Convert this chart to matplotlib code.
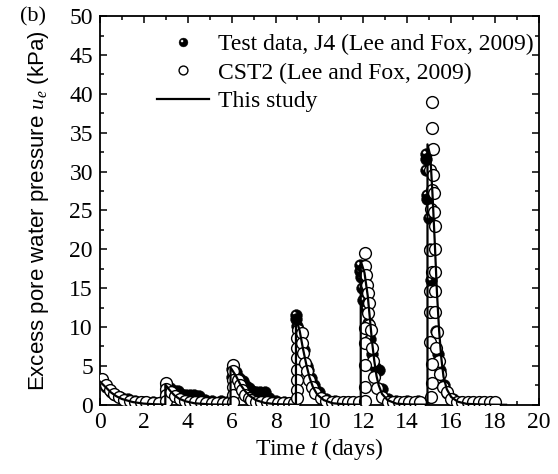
import matplotlib
matplotlib.use("Agg")
import matplotlib.pyplot as plt
from matplotlib.path import Path
from matplotlib.ticker import MultipleLocator
import numpy as np

# Measured excess pore water pressure, test J4 (Lee and Fox, 2009)
j4_t = [0.1, 0.3, 0.5, 0.7, 0.9, 1.1, 1.3, 1.6, 2.0, 2.4, 2.8,
        3.0, 3.0, 3.2, 3.4, 3.55, 3.7, 3.9, 4.1, 4.3, 4.5, 4.8, 5.1, 5.5, 5.8,
        6.0, 6.0, 6.2, 6.35, 6.5, 6.65, 6.8, 6.95, 7.1, 7.3, 7.5, 7.7, 8.0, 8.4, 8.8,
        8.95, 8.95, 9.0, 9.05, 9.15, 9.3, 9.45, 9.5, 9.6, 9.75, 10.0, 10.3, 10.7, 11.1, 11.5,
        11.85, 11.85, 11.9, 11.95, 12.0, 12.1, 12.2, 12.3, 12.4, 12.55, 12.7, 12.85, 13.1, 13.5, 14.0, 14.5,
        14.85, 14.85, 14.85, 14.88, 14.9, 15.0, 15.05, 15.1, 15.2, 15.3, 15.4, 15.5, 15.65, 15.8, 16.1, 16.5, 17.0, 17.5]
j4_u = [3.0, 2.3, 1.7, 1.3, 1.0, 0.8, 0.7, 0.5, 0.4, 0.3, 0.3,
        2.5, 1.6, 2.1, 1.8, 1.8, 1.4, 1.2, 1.2, 1.2, 1.1, 0.6, 0.5, 0.5, 0.4,
        4.6, 3.6, 4.2, 3.5, 3.0, 2.4, 2.1, 1.8, 1.7, 1.7, 1.6, 0.9, 0.5, 0.4, 0.4,
        11.5, 11.0, 10.2, 8.0, 9.0, 7.0, 5.0, 4.5, 3.5, 2.5, 1.7, 0.8, 0.5, 0.4, 0.4,
        18.0, 17.2, 16.5, 15.0, 13.5, 12.3, 10.5, 8.5, 6.5, 4.8, 4.5, 2.0, 0.8, 0.5, 0.5, 0.5,
        32.2, 31.6, 30.2, 27.0, 26.5, 24.0, 20.0, 16.0, 12.0, 9.5, 6.5, 4.5, 2.5, 1.5, 0.7, 0.4, 0.4, 0.3]

# Measured excess pore water pressure, test CST2 (Lee and Fox, 2009)
cst2_t = [0.1, 0.3, 0.46, 0.65, 0.87, 1.1, 1.37, 1.6, 1.87, 2.1, 2.4, 2.7,
          3.0, 3.0, 3.0, 3.0, 3.23, 3.42, 3.64, 3.87, 4.1, 4.35, 4.6, 4.85, 5.1, 5.35, 5.6, 5.85,
          6.04, 6.04, 6.04, 6.04, 6.04, 6.04, 6.3, 6.37, 6.45, 6.6, 6.77, 6.9, 7.1, 7.35, 7.6, 7.85,
          8.1, 8.35, 8.6, 8.85,
          9.04, 9.0, 9.0, 9.0, 9.0, 9.0, 9.0, 9.0, 9.19, 9.22, 9.26, 9.34, 9.42, 9.54, 9.64, 9.8,
          10.05, 10.3, 10.55, 10.8, 11.05, 11.3, 11.55, 11.8,
          12.07, 12.07, 12.1, 12.15, 12.2, 12.25, 12.2, 12.25, 12.07, 12.07, 12.33, 12.38, 12.45,
          12.07, 12.48, 12.07, 12.6, 12.07, 12.83, 13.1, 13.35, 13.6, 13.85, 14.1, 14.35, 14.6,
          15.11, 15.11, 15.15, 15.03, 15.15, 15.11, 15.22, 15.06, 15.21, 15.24, 15.03, 15.26,
          15.11, 15.26, 15.04, 15.26, 15.04, 15.26, 15.36, 15.04, 15.33, 15.46, 15.11, 15.5,
          15.11, 15.64, 15.1, 15.8, 16.0, 16.25, 16.5, 16.75, 17.0, 17.25, 17.5, 17.75, 18.0]
cst2_u = [3.3, 2.6, 1.9, 1.4, 0.95, 0.65, 0.5, 0.4, 0.35, 0.3, 0.25, 0.2,
          2.8, 2.0, 1.3, 0.5, 1.6, 1.1, 0.8, 0.5, 0.3, 0.3, 0.3, 0.25, 0.25, 0.25, 0.25, 0.25,
          5.1, 4.3, 3.2, 2.35, 1.3, 0.4, 3.2, 2.6, 1.9, 1.3, 0.9, 0.6, 0.4, 0.3, 0.3, 0.25,
          0.25, 0.25, 0.25, 0.25,
          9.6, 8.6, 7.3, 6.0, 4.5, 3.2, 1.9, 0.9, 9.2, 7.9, 6.6, 5.4, 4.3, 3.2, 2.35, 1.5,
          0.9, 0.5, 0.35, 0.3, 0.3, 0.3, 0.3, 0.3,
          19.5, 17.8, 16.7, 15.4, 14.4, 13.1, 11.8, 10.3, 9.9, 7.9, 9.6, 7.3, 5.6,
          5.1, 3.6, 2.35, 2.1, 0.5, 1.0, 0.4, 0.3, 0.3, 0.3, 0.3, 0.3, 0.3,
          38.9, 35.6, 32.9, 30.2, 29.6, 27.6, 27.2, 25.2, 24.8, 23.0, 19.9, 20.1,
          17.1, 17.1, 14.6, 14.6, 12.0, 12.0, 9.4, 8.1, 7.3, 5.6, 5.3, 3.9,
          2.8, 2.35, 1.0, 1.6, 0.8, 0.4, 0.3, 0.3, 0.3, 0.3, 0.3, 0.3, 0.3]

# Model prediction (this study)
model_t = [0.0, 0.25, 0.5, 0.75, 1.0, 1.5, 2.0, 2.5, 2.98,
           2.98, 3.2, 3.4, 3.6, 3.9, 4.3, 5.0, 5.95,
           5.95, 6.2, 6.4, 6.6, 6.8, 7.1, 7.5, 8.0, 8.93,
           8.93, 9.1, 9.25, 9.4, 9.55, 9.7, 9.9, 10.2, 10.6, 11.2, 11.88,
           11.88, 12.05, 12.2, 12.3, 12.4, 12.5, 12.6, 12.7, 12.85, 13.1, 13.5, 14.0, 14.92,
           14.92, 15.05, 15.15, 15.25, 15.35, 15.45, 15.55, 15.65, 15.8, 16.0, 16.3, 16.7, 17.5, 18.5]
model_u = [3.0, 2.3, 1.6, 1.1, 0.75, 0.35, 0.15, 0.07, 0.03,
           2.6, 1.8, 1.2, 0.8, 0.45, 0.2, 0.05, 0.02,
           4.8, 3.7, 2.6, 1.8, 1.2, 0.6, 0.25, 0.08, 0.02,
           11.2, 9.5, 7.2, 5.2, 3.5, 2.3, 1.3, 0.6, 0.2, 0.05, 0.02,
           18.5, 17.0, 14.0, 11.0, 8.0, 5.6, 3.7, 2.5, 1.4, 0.6, 0.15, 0.05, 0.02,
           33.5, 32.0, 27.0, 21.0, 14.5, 9.5, 6.0, 3.6, 2.0, 1.0, 0.4, 0.12, 0.03, 0.0]

x_ticks = [0, 2, 4, 6, 8, 10, 12, 14, 16, 18, 20]
y_ticks = [0, 5, 10, 15, 20, 25, 30, 35, 40, 45, 50]

SERIF = "Liberation Serif"
SANS = "Liberation Sans"
plt.rcParams["font.family"] = SERIF
plt.rcParams["mathtext.fontset"] = "custom"
plt.rcParams["mathtext.it"] = "Liberation Serif:italic"
plt.rcParams["mathtext.rm"] = "Liberation Serif"

# shaded "ball" marker: a disc with an off-centre highlight cut out of it
outer = Path.unit_circle()
hole = Path.circle(center=(-0.32, 0.32), radius=0.3)
hole_verts = hole.vertices[::-1]
ball = Path(np.concatenate([outer.vertices, hole_verts]),
            np.concatenate([outer.codes, hole.codes]))

fig = plt.figure(figsize=(5.58, 4.74), dpi=100)
ax = fig.add_axes([0.179, 0.146, 0.787, 0.820])

ax.plot(j4_t, j4_u, linestyle="none", marker=ball, ms=8.5, mfc="black",
        mec="black", mew=0.3, zorder=2, label="Test data, J4 (Lee and Fox, 2009)")
ax.plot(cst2_t, cst2_u, linestyle="none", marker="o", ms=8.5, mfc="white",
        mec="black", mew=1.0, zorder=3, label="CST2 (Lee and Fox, 2009)")
ax.plot(model_t, model_u, color="black", lw=1.6, zorder=4, label="This study")

ax.set_xlim(0, 20)
ax.set_ylim(0, 50)
ax.set_xticks(x_ticks)
ax.set_yticks(y_ticks)
ax.xaxis.set_minor_locator(MultipleLocator(1))
ax.yaxis.set_minor_locator(MultipleLocator(2.5))
ax.tick_params(which="both", direction="in", top=True, right=True,
               labelsize=17, width=1.1, pad=5)
ax.tick_params(which="major", length=5)
ax.tick_params(which="minor", length=3)
for lab in ax.get_xticklabels() + ax.get_yticklabels():
    lab.set_fontfamily(SERIF)
for sp in ax.spines.values():
    sp.set_linewidth(1.3)

ax.set_xlabel(r"Time $t$ (days)", fontsize=17, fontfamily=SERIF, labelpad=2)
ax.set_ylabel("Excess pore water pressure $u_e$ (kPa)", fontsize=16,
              fontfamily=SANS, labelpad=13)

fig.text(0.035, 0.965, "(b)", fontsize=16, fontfamily=SERIF, va="center")

leg = ax.legend(loc="upper left", bbox_to_anchor=(0.13, 0.955), frameon=False,
                fontsize=17, handlelength=2.2, handletextpad=0.4,
                labelspacing=0.3, borderpad=0, borderaxespad=0, markerscale=0.75)

fig.savefig("out.png", dpi=100)
